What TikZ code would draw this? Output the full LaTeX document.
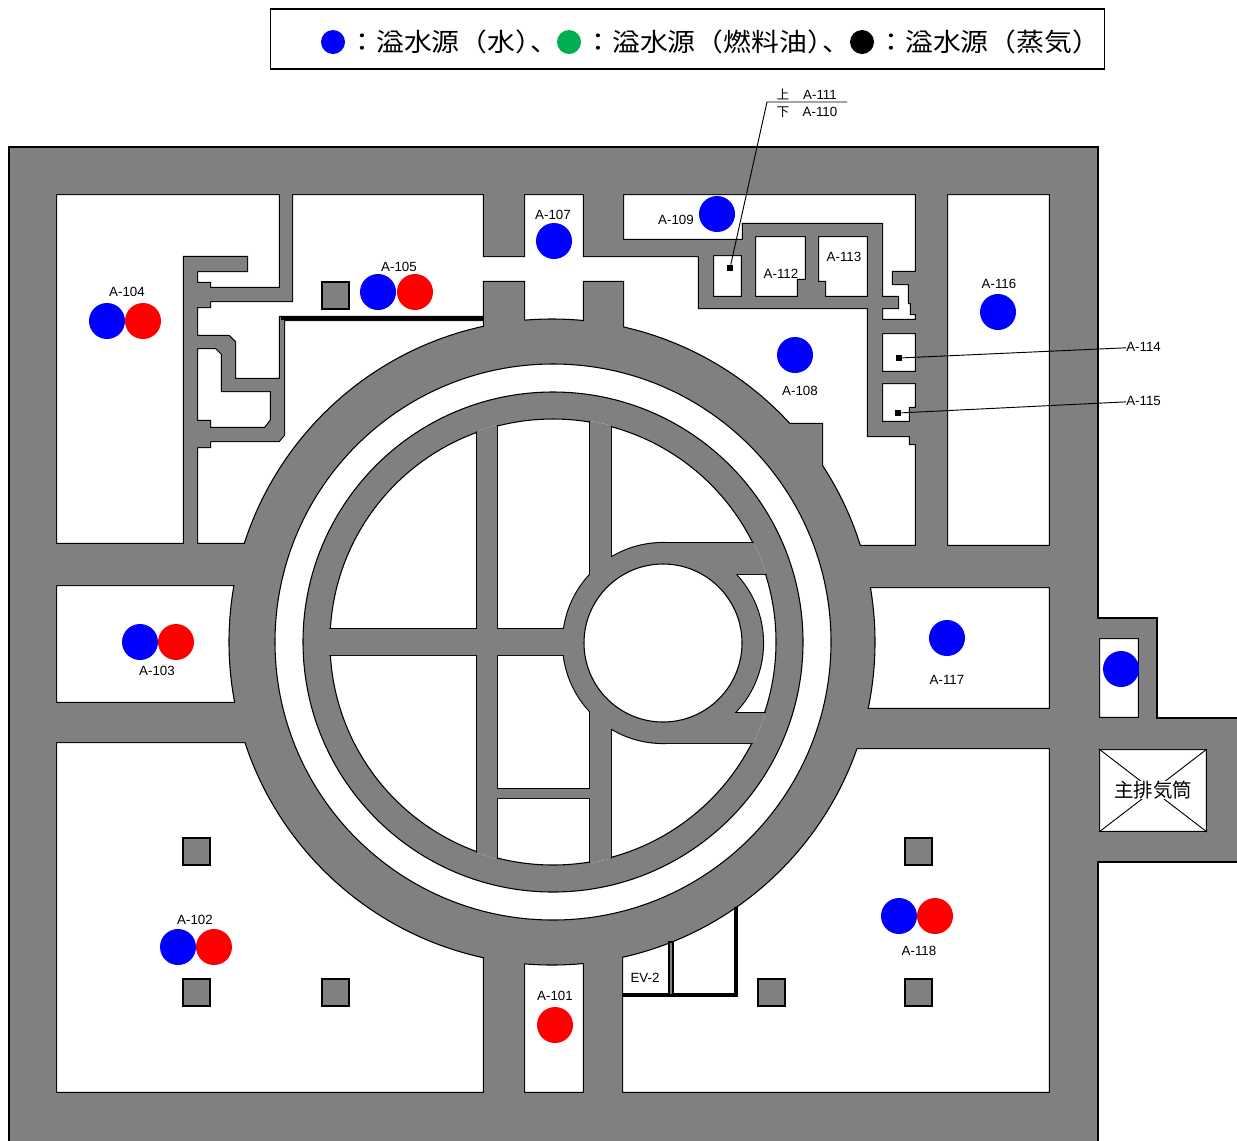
\documentclass[tikz,border=0pt]{standalone}
\usepackage{fontspec}
\setsansfont{Liberation Sans}
\newfontfamily\cjk{Noto Sans CJK JP}
\newfontfamily\cjkwide[FakeStretch=1.1]{Noto Sans CJK JP}
\definecolor{wallgray}{HTML}{808080}
\definecolor{srcblue}{HTML}{0000FF}
\definecolor{srcred}{HTML}{FF0000}
\definecolor{srcgreen}{HTML}{00B050}

% building outline, runs off the page on the right and at the bottom
\def\outerwall{(9,147) -- (1098,147) -- (1098,618) -- (1157,618) -- (1157,718) -- (1245,718)
  -- (1245,862) -- (1098,862) -- (1098,1150) -- (9,1150) -- cycle}
% rooms, parts under the ring get covered by it
\def\roomlist{
  (56,194) -- (280,194) -- (280,288) -- (210,288) -- (210,283) -- (197,283) -- (197,271)
    -- (247,271) -- (247,257) -- (184,257) -- (184,544) -- (56,544) -- cycle
  (292,194) -- (484,194) -- (484,256) -- (524,256) -- (524,194) -- (584,194) -- (584,256)
    -- (699,256) -- (699,308) -- (868,308) -- (868,436) -- (910,436) -- (910,444) -- (916,444)
    -- (916,546) -- (860,546) -- (822,500) -- (822,424) -- (788,424) -- (700,400) -- (623,400)
    -- (623,282) -- (584,282) -- (584,400) -- (524,400) -- (524,282) -- (484,282) -- (484,317)
    -- (280,317) -- (280,379) -- (235,379) -- (235,342) -- (229,336) -- (197,336) -- (197,307)
    -- (210,307) -- (210,301) -- (292,301) -- cycle
  (197,348) -- (216,348) -- (222,354) -- (222,391) -- (271,391) -- (271,420) -- (265,428)
    -- (210,428) -- (210,421) -- (197,421) -- cycle
  (197,447) -- (210,447) -- (210,441) -- (279,441) -- (284,435) -- (284,320) -- (484,320)
    -- (484,400) -- (350,450) -- (280,544) -- (197,544) -- cycle
  (623,194) -- (916,194) -- (916,272) -- (893,272) -- (893,284) -- (909,284) -- (909,303)
    -- (911,303) -- (911,314) -- (916,314) -- (916,320) -- (882,320) -- (882,308) -- (898,308)
    -- (898,297) -- (882,297) -- (882,224) -- (743,224) -- (743,240) -- (623,240) -- cycle
  (713,255) rectangle (742,297)
  (755,236) -- (806,236) -- (806,280) -- (798,280) -- (798,297) -- (755,297) -- cycle
  (818,236) -- (868,236) -- (868,297) -- (825,297) -- (825,282) -- (818,282) -- cycle
  (882,333) rectangle (916,372)
  (882,383) -- (916,383) -- (916,408) -- (910,408) -- (910,422) -- (882,422) -- cycle
  (947,194) rectangle (1050,546)
  (56,585) rectangle (300,703)
  (800,587) rectangle (1050,709)
  (56,742) -- (350,742) -- (484,900) -- (484,1093) -- (56,1093) -- cycle
  (524,900) rectangle (584,1093)
  (622,900) -- (750,800) -- (800,748) -- (1050,748) -- (1050,1093) -- (622,1093) -- cycle
  (1099,638) rectangle (1139,718)
  (1099,749) rectangle (1207,832)
}
% walls inside the core
\def\corewalls{
  (477,400) rectangle (497,900)
  (590,400) rectangle (611,900)
  (300,629) rectangle (663,655)
  (497,789) rectangle (590,798)
  (663,543) rectangle (800,574)
  (663,713) rectangle (800,743)
}
\def\corecircle{(663,643) circle[radius=100]}

\begin{document}
\begin{tikzpicture}[
    x=0.75pt,y=-0.75pt,
    wall/.style={fill=wallgray},
    room/.style={fill=white,draw=black,line width=1.6pt},
    edge/.style={draw=black,line width=0.8pt},
    heavy/.style={draw=black,line width=2.4pt},
    leader/.style={draw=black,line width=0.7pt},
    pillar/.style={wall,draw=black,line width=0.8pt},
    source/.style={circle,inner sep=0pt,minimum size=27pt},
    water/.style={source,fill=srcblue},
    oil/.style={source,fill=srcred},
    key/.style={circle,inner sep=0pt,minimum size=18pt},
    tag/.style={font=\sffamily\fontsize{10pt}{10pt}\selectfont,inner sep=0pt},
    keytext/.style={font=\cjkwide\fontsize{19pt}{19pt}\selectfont,inner sep=0pt,anchor=west}
    ]
    \useasboundingbox (0,0) rectangle (1237,1140);

    % walls and rooms
    \fill[wall] \outerwall;
    \path[room] \roomlist;
    \path[wall,edge] (552,642) circle[radius=323];
    \fill[wall,even odd rule] \outerwall \roomlist;
    \path[edge] \outerwall;

    % ring and core
    \path[fill=white,edge] (553,642) circle[radius=278];
    \path[wall,edge] (553,642) circle[radius=250];
    \path[fill=white,edge] (553,642) circle[radius=223];
    \begin{scope}
      \clip (553,642) circle[radius=224];
      \path[room] \corewalls;
      \path[room] \corecircle;
      \fill[wall] \corewalls;
      \fill[wall] \corecircle;
    \end{scope}
    \path[fill=white,edge] (663,643) circle[radius=79];

    % partitions
    \path[heavy] (281,318.5) -- (484,318.5);
    \path[heavy] (622,995) -- (736,995) -- (736,907);
    \path[pillar] (669,942) rectangle (673,995);

    % pillars
    \foreach \px/\py in {183/838,183/979,322/979,322/282,905/838,758/979,905/979}
      \path[pillar] (\px,\py) rectangle ++(27,27);

    % stack
    \path[leader] (1099,749) -- (1207,832) (1207,749) -- (1099,832);
    \node[fill=white,inner sep=0pt,font=\cjk\fontsize{14.6pt}{14.6pt}\selectfont] (stack) at (1153,790) {主排気筒};

    % legend
    \node[draw,line width=0.8pt,minimum width=625pt,minimum height=45pt,inner sep=0pt] (legend) at (687.5,39) {};
    \node[key,fill=srcblue] (keyw) at (333,42) {};
    \node[keytext] (textw) at (348,42) {：溢水源（水）\hspace{-0.5em}、};
    \node[key,fill=srcgreen] (keyo) at (569,42) {};
    \node[keytext] (texto) at (584,42) {：溢水源（燃料油）\hspace{-0.5em}、};
    \node[key,fill=black] (keys) at (862,42) {};
    \node[keytext] (texts) at (877,42) {：溢水源（蒸気）};

    % sources
    \node[water] (w104) at (107,321) {};
    \node[oil] (o104) at (143,321) {};
    \node[water] (w105) at (378,292) {};
    \node[oil] (o105) at (415,292) {};
    \node[water] (w107) at (554,241) {};
    \node[water] (w109) at (717,214) {};
    \node[water] (w108) at (795,355) {};
    \node[water] (w116) at (998,312) {};
    \node[water] (w117) at (947,638) {};
    \node[water] (wstack) at (1121,669) {};
    \node[water] (w103) at (140,642) {};
    \node[oil] (o103) at (176,642) {};
    \node[water] (w102) at (178,947) {};
    \node[oil] (o102) at (214,947) {};
    \node[oil] (o101) at (555,1025) {};
    \node[water] (w118) at (899,916) {};
    \node[oil] (o118) at (935,916) {};

    % room names
    \node[tag] (a101) at (555,996) {A-101};
    \node[tag] (a102) at (195,920) {A-102};
    \node[tag] (a103) at (157,671) {A-103};
    \node[tag] (a104) at (127,292) {A-104};
    \node[tag] (a105) at (399,267) {A-105};
    \node[tag] (a107) at (553,215) {A-107};
    \node[tag] (a108) at (800,391) {A-108};
    \node[tag] (a109) at (676,220) {A-109};
    \node[tag] (a112) at (781,274) {A-112};
    \node[tag] (a113) at (844,257) {A-113};
    \node[tag] (a116) at (999,284) {A-116};
    \node[tag] (a117) at (947,680) {A-117};
    \node[tag] (a118) at (919,951) {A-118};
    \node[tag] (ev2) at (645,978) {EV-2};

    % leaders
    \node[fill,inner sep=0pt,minimum size=4.5pt] (d110) at (730,268) {};
    \node[fill,inner sep=0pt,minimum size=4.5pt] (d114) at (899,358) {};
    \node[fill,inner sep=0pt,minimum size=4.5pt] (d115) at (898,413) {};
    \node[tag,anchor=west] (a114) at (1126,347) {A-114};
    \node[tag,anchor=west] (a115) at (1126,401) {A-115};
    \node[tag] (a111) at (820,95) {A-111};
    \node[tag] (a110) at (820,112) {A-110};
    \node[inner sep=0pt,font=\cjk\fontsize{9.5pt}{9.5pt}\selectfont] (up) at (783,94) {上};
    \node[inner sep=0pt,font=\cjk\fontsize{9.5pt}{9.5pt}\selectfont] (down) at (783,112) {下};
    \coordinate (kink) at (767,102);
    \coordinate (lineend) at (847,102);
    \path[leader] (d110) -- (kink) -- (lineend);
    \path[leader] (d114) -- (a114);
    \path[leader] (d115) -- (a115);
\end{tikzpicture}
\end{document}
